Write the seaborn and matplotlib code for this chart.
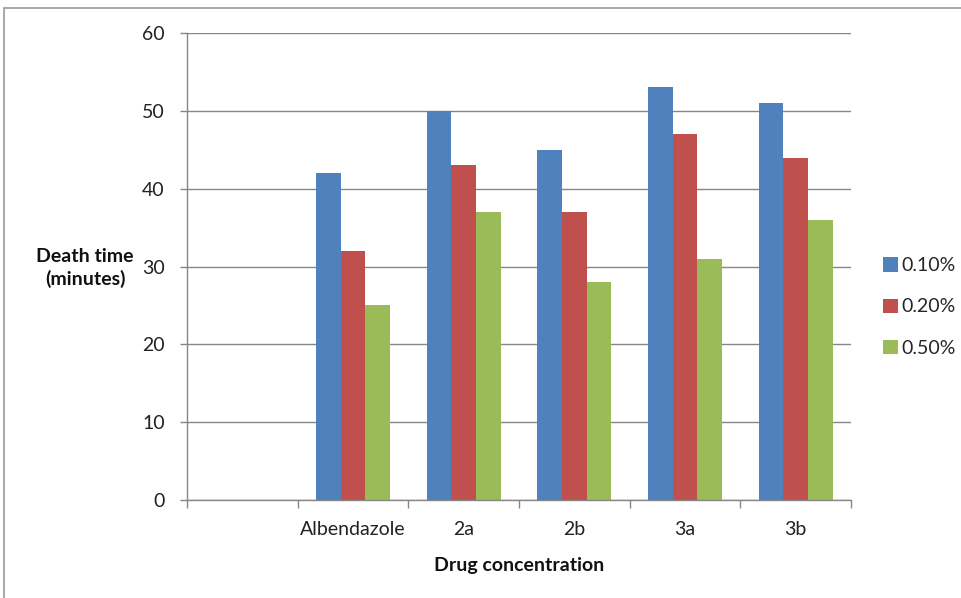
import matplotlib
matplotlib.use("Agg")
import matplotlib.pyplot as plt
import seaborn as sns
import pandas as pd
import numpy as np
from matplotlib.patches import Rectangle
from matplotlib.ticker import FixedLocator, NullFormatter

categories = ["", "Albendazole", "2a", "2b", "3a", "3b"]
series = ["0.10%", "0.20%", "0.50%"]
vals_010 = [0, 42, 50, 45, 53, 51]
vals_020 = [0, 32, 43, 37, 47, 44]
vals_050 = [0, 25, 37, 28, 31, 36]
colors = ["#4F81BD", "#C0504D", "#9BBB59"]

rows = []
for s, vals in zip(series, [vals_010, vals_020, vals_050]):
    for c, v in zip(categories, vals):
        rows.append({"cat": c, "series": s, "value": v})
df = pd.DataFrame(rows)

sns.set_theme(style="white")
plt.rcParams["font.family"] = ["Lato", "DejaVu Sans"]

fig = plt.figure(figsize=(9.61, 5.98), dpi=100)
ax = fig.add_axes([187/961, 1-500/598, (851-187)/961, (500-33)/598])

sns.barplot(data=df, x="cat", y="value", hue="series", order=categories,
            hue_order=series, palette=colors, width=0.667, gap=0,
            saturation=1, ax=ax, legend=True, linewidth=0)

ax.set_xlim(-0.5, 5.5)
ax.set_ylim(0, 60)
ax.set_yticks(range(0, 61, 10))
ax.yaxis.grid(True, color="#868686", linewidth=1)
ax.set_axisbelow(True)
for sp in ["top", "right"]:
    ax.spines[sp].set_visible(False)
for sp in ["left", "bottom"]:
    ax.spines[sp].set_color("#868686")
    ax.spines[sp].set_linewidth(1)

ax.tick_params(axis="y", which="major", length=5, width=1, color="#868686",
               direction="out", left=True, labelsize=14, pad=11, labelcolor="#222222")
ax.tick_params(axis="x", which="major", length=0, labelsize=14, pad=15, labelcolor="#222222")
ax.xaxis.set_minor_locator(FixedLocator(np.arange(-0.5, 5.6, 1)))
ax.xaxis.set_minor_formatter(NullFormatter())
ax.tick_params(axis="x", which="minor", length=6, width=1, color="#868686",
               direction="out", bottom=True)

ax.set_xlabel("Drug concentration", fontsize=14, fontweight="bold", labelpad=14, color="#111111")
ax.set_ylabel("")
fig.text(85/961, 1-268/598, "Death time\n(minutes)", ha="center", va="center",
         fontsize=14, fontweight="bold", color="#111111", linespacing=1.3)

handles, labels = ax.get_legend_handles_labels()
ax.legend(handles, labels, loc="center left", bbox_to_anchor=(883/961, 1-307/598),
          bbox_transform=fig.transFigure, frameon=False, fontsize=14,
          handlelength=0.75, handleheight=0.75, handletextpad=0.2, labelspacing=1.25,
          borderaxespad=0, borderpad=0)

fig.patches.append(Rectangle((4/961, -0.1), 1.2, (1-8/598)+0.1, transform=fig.transFigure,
                             fill=False, edgecolor="#9a9a9a", linewidth=1.2))

fig.savefig("out.png", dpi=100)
